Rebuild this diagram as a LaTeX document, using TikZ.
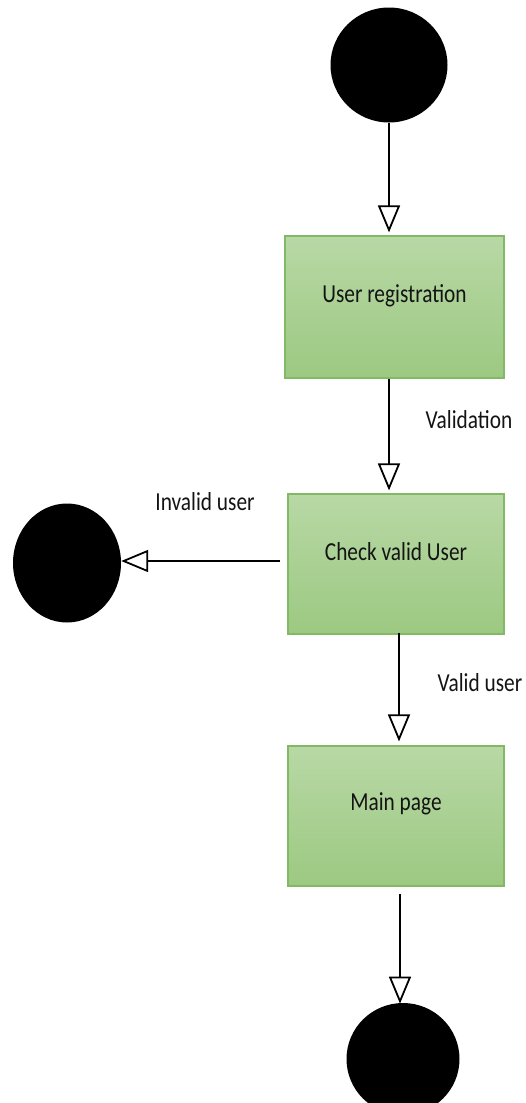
\documentclass[tikz,border=0pt]{standalone}
\usepackage{fontspec}
\setmainfont{Carlito}
\usetikzlibrary{arrows.meta,shapes.geometric,calc}
\newcommand{\tallt}[1]{\scalebox{0.97}[1.18]{#1}}
\begin{document}
\begin{tikzpicture}[x=1pt,y=1pt,
  blob/.style={ellipse,fill=black,draw=none,inner sep=0pt},
  actbox/.style={rectangle,draw={rgb,255:red,130;green,185;blue,100},line width=1.2pt,
    top color={rgb,255:red,184;green,216;blue,165},bottom color={rgb,255:red,156;green,201;blue,130},
    inner sep=0pt},
  flow/.style={line width=1.8pt,-{Triangle[open,length=27pt,width=22pt,line width=1.8pt]}},
  lbl/.style={font=\fontsize{22}{26}\selectfont,text=black!92}
]
\useasboundingbox (0,0) rectangle (526,-1103);
\fill[white] (0,0) rectangle (526,-1103);
\node[blob,minimum width=117pt,minimum height=115pt] (start) at (389,-65) {};
\node[actbox,minimum width=219pt,minimum height=142pt,label={[lbl,yshift=11pt]center:\tallt{User registration}}] (b1) at (394.5,-307) {};
\node[actbox,minimum width=216pt,minimum height=140pt,label={[lbl,yshift=12pt]center:\tallt{Check valid User}}] (b2) at (396,-564) {};
\node[actbox,minimum width=216pt,minimum height=140pt,label={[lbl,yshift=12pt]center:\tallt{Main page}}] (b3) at (396,-816) {};
\node[blob,minimum width=108pt,minimum height=119pt] (inv) at (67,-563) {};
\node[blob,minimum width=113pt,minimum height=112pt] (fin) at (403,-1059) {};
\node[lbl] (lv) at (469,-420) {\tallt{Validation}};
\node[lbl] (li) at (205,-502) {\tallt{Invalid user}};
\node[lbl] (lu) at (480,-683) {\tallt{Valid user}};
\draw[flow,shorten >=3pt] (start.south) -- (start.south |- b1.north);
\draw[flow,shorten >=3pt] (start.south |- b1.south) -- (start.south |- b2.north);
\draw[flow] ($(b2.south)+(3,2)$) -- ($(b3.north)+(3,4)$);
\draw[flow] ($(b2.west)+(-7,3)$) -- (inv.east |- {$(b2.west)+(0,3)$});
\draw[flow] ($(b3.south)+(4,-7)$) -- ($(b3.south)+(4,-117)$);
\end{tikzpicture}
\end{document}
